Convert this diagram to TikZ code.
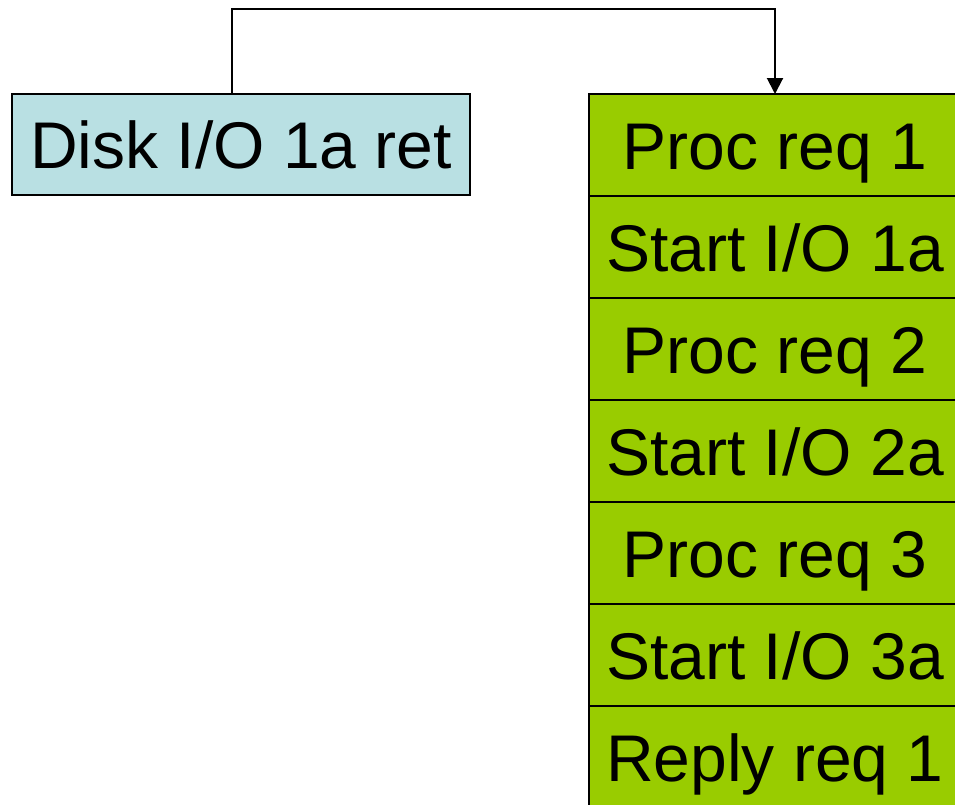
\documentclass[tikz,border=0pt]{standalone}
\usepackage{fontspec}
\setmainfont{Liberation Sans}
\usetikzlibrary{arrows.meta,positioning}
\definecolor{diskblue}{HTML}{B9E0E3}
\definecolor{procgreen}{HTML}{99CC00}
\tikzset{
  box/.style={draw=black, line width=2pt, inner sep=0pt, outer sep=0pt,
              font=\fontsize{66}{70}\selectfont, text=black,
              text height=48pt, text depth=0pt},
  diskbox/.style={box, fill=diskblue, minimum width=458pt, minimum height=101pt},
  stepbox/.style={box, fill=procgreen, minimum width=372pt, minimum height=102pt},
  conn/.style={draw=black, line width=2pt, -{Triangle[length=16pt,width=16pt]}}
}
\begin{document}
\begin{tikzpicture}[x=1pt, y=-1pt]
  \useasboundingbox (0,0) rectangle (955,804);
  \clip (0,0) rectangle (955,804);

  % returning disk I/O event
  \node[diskbox, anchor=north west] (disk) at (12,94) {Disk I/O 1a ret};

  % queue of work items
  \node[stepbox, anchor=north west] (p1) at (589,94) {Proc req 1};
  \node[stepbox, below=0pt of p1] (s1) {Start I/O 1a};
  \node[stepbox, below=0pt of s1] (p2) {Proc req 2};
  \node[stepbox, below=0pt of p2] (s2) {Start I/O 2a};
  \node[stepbox, below=0pt of s2] (p3) {Proc req 3};
  \node[stepbox, below=0pt of p3] (s3) {Start I/O 3a};
  \node[stepbox, below=0pt of s3] (r1) {Reply req 1};

  % event enters the queue
  \draw[conn] ([xshift=-9pt]disk.north) -- ++(0,-85) -| (p1.north);
\end{tikzpicture}
\end{document}
